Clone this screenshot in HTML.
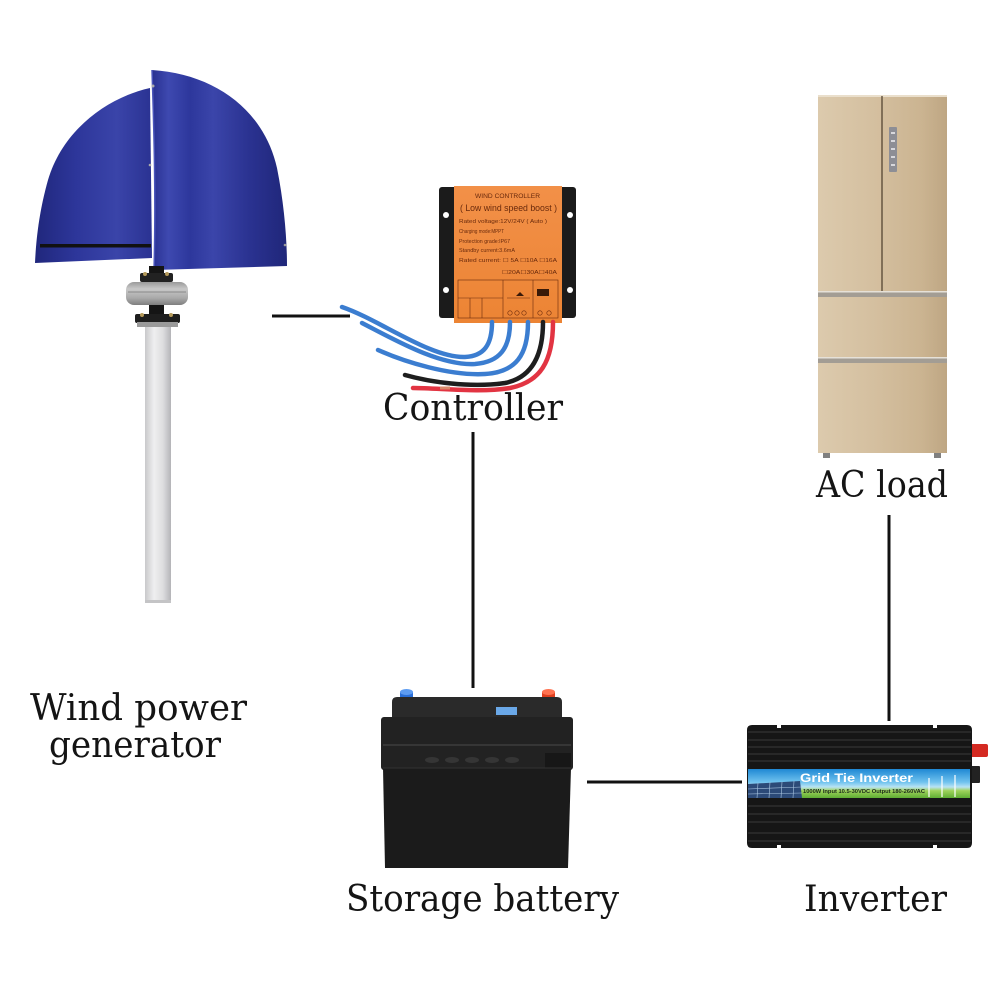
<!DOCTYPE html>
<html><head><meta charset="utf-8"><style>
html,body{margin:0;padding:0;background:#fff;}
svg{display:block;}
</style></head><body>
<svg width="1000" height="1000" viewBox="0 0 1000 1000" xmlns="http://www.w3.org/2000/svg">
<defs>
 <linearGradient id="bladeR" x1="152" y1="0" x2="288" y2="0" gradientUnits="userSpaceOnUse">
  <stop offset="0" stop-color="#283090"/>
  <stop offset="0.12" stop-color="#3e49b0"/>
  <stop offset="0.28" stop-color="#2d379c"/>
  <stop offset="0.45" stop-color="#3b45aa"/>
  <stop offset="0.7" stop-color="#2b3392"/>
  <stop offset="1" stop-color="#1f2679"/>
 </linearGradient>
 <linearGradient id="bladeL" x1="35" y1="0" x2="152" y2="0" gradientUnits="userSpaceOnUse">
  <stop offset="0" stop-color="#20277c"/>
  <stop offset="0.35" stop-color="#2d369a"/>
  <stop offset="0.7" stop-color="#3a44a9"/>
  <stop offset="1" stop-color="#2a3292"/>
 </linearGradient>
 <linearGradient id="pole" x1="145" y1="0" x2="171" y2="0" gradientUnits="userSpaceOnUse">
  <stop offset="0" stop-color="#c9c9cb"/>
  <stop offset="0.35" stop-color="#efeff0"/>
  <stop offset="0.7" stop-color="#dcdcde"/>
  <stop offset="1" stop-color="#b4b4b8"/>
 </linearGradient>
 <linearGradient id="hub" x1="0" y1="282" x2="0" y2="305" gradientUnits="userSpaceOnUse">
  <stop offset="0" stop-color="#9a9a9a"/>
  <stop offset="0.3" stop-color="#c8c8c8"/>
  <stop offset="0.7" stop-color="#a9a9a9"/>
  <stop offset="1" stop-color="#7e7e7e"/>
 </linearGradient>
 <linearGradient id="fridge" x1="818" y1="0" x2="947" y2="0" gradientUnits="userSpaceOnUse">
  <stop offset="0" stop-color="#dccaad"/>
  <stop offset="0.45" stop-color="#d4bf9f"/>
  <stop offset="0.8" stop-color="#cbb491"/>
  <stop offset="1" stop-color="#bea683"/>
 </linearGradient>
 <linearGradient id="orange" x1="0" y1="186" x2="0" y2="323" gradientUnits="userSpaceOnUse">
  <stop offset="0" stop-color="#f29048"/>
  <stop offset="1" stop-color="#ec8434"/>
 </linearGradient>
 <linearGradient id="band" x1="0" y1="769" x2="0" y2="798" gradientUnits="userSpaceOnUse">
  <stop offset="0" stop-color="#1f88d4"/>
  <stop offset="0.45" stop-color="#6fc2ee"/>
  <stop offset="0.62" stop-color="#b8e3f3"/>
  <stop offset="0.75" stop-color="#9ed25a"/>
  <stop offset="1" stop-color="#5fae34"/>
 </linearGradient>
</defs>

<rect width="1000" height="1000" fill="#ffffff"/>

<!-- ===== Wind turbine ===== -->
<path d="M150,88 C105,98 62,132 48,180 C39,212 36,240 35,263 L152,258 Z" fill="url(#bladeL)"/>
<rect x="40" y="244" width="111" height="3.5" fill="#111"/>
<path d="M152,70 C215,74 264,110 277,168 C284,203 287,238 287,266 L154,270 C156,200 154,130 152,70 Z" fill="url(#bladeR)"/>
<path d="M152,70 C154,130 156,200 154,270" stroke="#4a55bb" stroke-width="1.5" fill="none"/>
<circle cx="153" cy="86" r="1.5" fill="#aaa"/>
<circle cx="150" cy="165" r="1.3" fill="#aaa"/>
<circle cx="285" cy="245" r="1.3" fill="#999"/>
<!-- hub -->
<rect x="149" y="266" width="15" height="10" fill="#151515"/>
<rect x="140" y="273" width="33" height="9" rx="2" fill="#222"/>
<circle cx="145" cy="274" r="2" fill="#b59a5a"/>
<circle cx="167" cy="274" r="2" fill="#b59a5a"/>
<rect x="126" y="282" width="62" height="23" rx="8" fill="url(#hub)"/>
<line x1="128" y1="292" x2="186" y2="292" stroke="#8a8a8a" stroke-width="1"/>
<rect x="149" y="305" width="15" height="10" fill="#151515"/>
<rect x="135" y="314" width="45" height="9" rx="2" fill="#1e1e1e"/>
<rect x="137" y="322" width="41" height="5" fill="#9a9a9a"/>
<circle cx="142" cy="315" r="2" fill="#b59a5a"/>
<circle cx="171" cy="315" r="2" fill="#b59a5a"/>
<rect x="145" y="327" width="26" height="275" fill="url(#pole)"/>
<rect x="145" y="600" width="26" height="3" fill="#c4c4c6"/>

<!-- connector turbine -> controller -->
<line x1="272" y1="316" x2="350" y2="316" stroke="#111" stroke-width="3"/>

<!-- ===== Controller ===== -->
<rect x="439" y="187" width="137" height="131" rx="3" fill="#1b1b1b"/>
<circle cx="446" cy="215" r="3" fill="#fff"/>
<circle cx="570" cy="215" r="3" fill="#fff"/>
<circle cx="446" cy="290" r="3" fill="#fff"/>
<circle cx="570" cy="290" r="3" fill="#fff"/>
<rect x="454" y="186" width="108" height="137" fill="url(#orange)"/>
<g font-family="Liberation Sans, sans-serif" fill="#6a2a0c">
 <text x="475" y="198" font-size="6" textLength="65" lengthAdjust="spacingAndGlyphs">WIND CONTROLLER</text>
 <text x="460" y="211" font-size="9" textLength="97" lengthAdjust="spacingAndGlyphs">( Low wind speed boost )</text>
 <text x="459" y="223" font-size="5.5" textLength="88" lengthAdjust="spacingAndGlyphs">Rated voltage:12V/24V ( Auto )</text>
 <text x="459" y="233" font-size="5.5" textLength="45" lengthAdjust="spacingAndGlyphs">Charging mode:MPPT</text>
 <text x="459" y="243" font-size="5.5" textLength="51" lengthAdjust="spacingAndGlyphs">Protection grade:IP67</text>
 <text x="459" y="252" font-size="5.5" textLength="56" lengthAdjust="spacingAndGlyphs">Standby current:3.6mA</text>
 <text x="459" y="262" font-size="5.5" textLength="98" lengthAdjust="spacingAndGlyphs">Rated current: ☐ 5A ☐10A ☐16A</text>
 <text x="502" y="274" font-size="5.5" textLength="55" lengthAdjust="spacingAndGlyphs">☐20A☐30A☐40A</text>
</g>
<g stroke="#6a2a0c" stroke-width="0.6" fill="none">
 <rect x="458" y="280" width="100" height="38"/>
 <line x1="503" y1="280" x2="503" y2="318"/>
 <line x1="533" y1="280" x2="533" y2="318"/>
 <line x1="470" y1="298" x2="470" y2="318"/>
 <line x1="482" y1="298" x2="482" y2="318"/>
 <line x1="458" y1="298" x2="503" y2="298"/>
 <line x1="507" y1="298" x2="530" y2="298"/>
 <circle cx="510" cy="313" r="2.2"/><circle cx="517" cy="313" r="2.2"/><circle cx="524" cy="313" r="2.2"/>
 <circle cx="540" cy="313" r="2.2"/><circle cx="549" cy="313" r="2.2"/>
</g>
<path d="M518,283 L520,292 L516,296 L524,296 L520,292 Z" fill="#3a1a08"/>
<rect x="537" y="289" width="12" height="7" fill="#3a1a08"/>
<!-- wires -->
<g fill="none" stroke-linecap="round" stroke-width="4.5">
 <path d="M492,322 C492,345 484,356 465,357 C430,358 380,320 342,307" stroke="#3b7dd0"/>
 <path d="M510,322 C510,348 500,362 475,364 C440,366 395,340 362,323" stroke="#3b7dd0"/>
 <path d="M528,322 C528,355 516,372 485,374 C450,376 405,362 378,350" stroke="#3b7dd0"/>
 <path d="M543,322 C543,358 530,378 505,383 C470,388 430,382 405,375" stroke="#1e1e1e"/>
 <path d="M553,322 C553,362 540,382 510,388 C480,393 440,388 413,388" stroke="#e23442"/>
</g>
<line x1="440" y1="388" x2="450" y2="388" stroke="#d88a6a" stroke-width="3"/>

<!-- connector controller -> battery -->
<line x1="473" y1="432" x2="473" y2="688" stroke="#111" stroke-width="3"/>

<!-- ===== Fridge ===== -->
<rect x="818" y="95" width="129" height="358" fill="url(#fridge)"/>
<rect x="818" y="95" width="129" height="2" fill="#eadfcc"/>
<line x1="882" y1="96" x2="882" y2="291" stroke="#5e4e3a" stroke-width="1.4"/>
<rect x="889" y="127" width="8" height="45" rx="1" fill="#8d8e95"/>
<g fill="#d8d8dc"><rect x="891" y="132" width="4" height="2"/><rect x="891" y="140" width="4" height="2"/><rect x="891" y="148" width="4" height="2"/><rect x="891" y="156" width="4" height="2"/><rect x="891" y="164" width="4" height="2"/></g>
<rect x="818" y="291" width="129" height="6" fill="#a39d94"/>
<rect x="818" y="291" width="129" height="1.5" fill="#e6e1d8"/>
<rect x="818" y="357" width="129" height="6" fill="#a39d94"/>
<rect x="818" y="357" width="129" height="1.5" fill="#e6e1d8"/>
<rect x="823" y="453" width="7" height="5" fill="#808080"/>
<rect x="934" y="453" width="7" height="5" fill="#808080"/>

<!-- connector AC load -> inverter -->
<line x1="889" y1="515" x2="889" y2="721" stroke="#111" stroke-width="3"/>

<!-- ===== Battery ===== -->
<rect x="397" y="704" width="19" height="6" fill="#333"/>
<rect x="400" y="692" width="13" height="14" fill="#2a6fd8"/>
<ellipse cx="406.5" cy="692" rx="6.5" ry="3" fill="#5d9cf2"/>
<rect x="539" y="704" width="19" height="6" fill="#333"/>
<rect x="542" y="692" width="13" height="14" fill="#e0401f"/>
<ellipse cx="548.5" cy="692" rx="6.5" ry="3" fill="#ff7250"/>
<path d="M397,697 H557 Q562,697 562,702 V720 H392 V702 Q392,697 397,697 Z" fill="#2a2a2a"/>
<rect x="496" y="707" width="21" height="8" fill="#6aa8e8"/>
<rect x="381" y="717" width="192" height="53" rx="3" fill="#222"/>
<line x1="383" y1="745" x2="571" y2="745" stroke="#3c3c3c" stroke-width="1.5"/>
<g fill="#353535">
 <ellipse cx="432" cy="760" rx="7" ry="3"/><ellipse cx="452" cy="760" rx="7" ry="3"/><ellipse cx="472" cy="760" rx="7" ry="3"/><ellipse cx="492" cy="760" rx="7" ry="3"/><ellipse cx="512" cy="760" rx="7" ry="3"/>
</g>
<rect x="545" y="753" width="26" height="16" fill="#171717"/>
<path d="M383,768 H571 L568,868 H385 Z" fill="#1b1b1b"/>
<line x1="383" y1="768" x2="571" y2="768" stroke="#333" stroke-width="1"/>

<!-- connector battery -> inverter -->
<line x1="587" y1="782" x2="742" y2="782" stroke="#111" stroke-width="3"/>

<!-- ===== Inverter ===== -->
<rect x="970" y="744" width="18" height="13" rx="2" fill="#d42a22"/>
<rect x="971" y="766" width="9" height="17" rx="1" fill="#222"/>
<path d="M752,725 H777 V728 H781 V725 H933 V728 H937 V725 H967 Q972,725 972,730 V843 Q972,848 967,848 H937 V845 H933 V848 H781 V845 H777 V848 H752 Q747,848 747,843 V730 Q747,725 752,725 Z" fill="#161616"/>
<g stroke="#3a3a3a" stroke-width="1">
 <line x1="748" y1="732" x2="971" y2="732"/>
 <line x1="748" y1="740" x2="971" y2="740"/>
 <line x1="748" y1="747" x2="971" y2="747"/>
 <line x1="748" y1="754" x2="971" y2="754"/>
 <line x1="748" y1="761" x2="971" y2="761"/>
 <line x1="748" y1="806" x2="971" y2="806"/>
 <line x1="748" y1="814" x2="971" y2="814"/>
 <line x1="748" y1="822" x2="971" y2="822"/>
 <line x1="748" y1="833" x2="971" y2="833"/>
 <line x1="748" y1="841" x2="971" y2="841"/>
</g>
<rect x="748" y="769" width="222" height="29" fill="url(#band)"/>
<path d="M748,784 L800,781 L802,798 L748,798 Z" fill="#2c4a78"/>
<g stroke="#a8c4e0" stroke-width="0.6">
 <line x1="748" y1="789" x2="802" y2="787"/><line x1="748" y1="794" x2="802" y2="793"/>
 <line x1="758" y1="783" x2="757" y2="798"/><line x1="770" y1="782" x2="769" y2="798"/><line x1="782" y1="782" x2="781" y2="798"/><line x1="794" y1="781" x2="793" y2="798"/>
</g>
<g stroke="#fff" stroke-width="1.2">
 <line x1="929" y1="778" x2="929" y2="797"/><line x1="942" y1="776" x2="942" y2="797"/><line x1="955" y1="775" x2="955" y2="797"/>
</g>
<text x="800" y="782" font-family="Liberation Sans, sans-serif" font-weight="bold" font-size="12" fill="#fff" textLength="113" lengthAdjust="spacingAndGlyphs">Grid Tie Inverter</text>
<text x="803" y="793" font-family="Liberation Sans, sans-serif" font-weight="bold" font-size="5" fill="#1a2a1a" textLength="122" lengthAdjust="spacingAndGlyphs">1000W  Input 10.5-30VDC Output 180-260VAC</text>

<!-- ===== Labels ===== -->
<g font-family="DejaVu Serif, Liberation Serif, serif" fill="#141414" font-size="36">
 <text x="383" y="420" textLength="180" lengthAdjust="spacingAndGlyphs">Controller</text>
 <text x="816" y="497" textLength="132" lengthAdjust="spacingAndGlyphs">AC load</text>
 <text x="30" y="720" textLength="217" lengthAdjust="spacingAndGlyphs">Wind power</text>
 <text x="49" y="757" textLength="172" lengthAdjust="spacingAndGlyphs">generator</text>
 <text x="346" y="911" textLength="273" lengthAdjust="spacingAndGlyphs">Storage battery</text>
 <text x="804" y="911" textLength="143" lengthAdjust="spacingAndGlyphs">Inverter</text>
</g>
</svg>
</body></html>
